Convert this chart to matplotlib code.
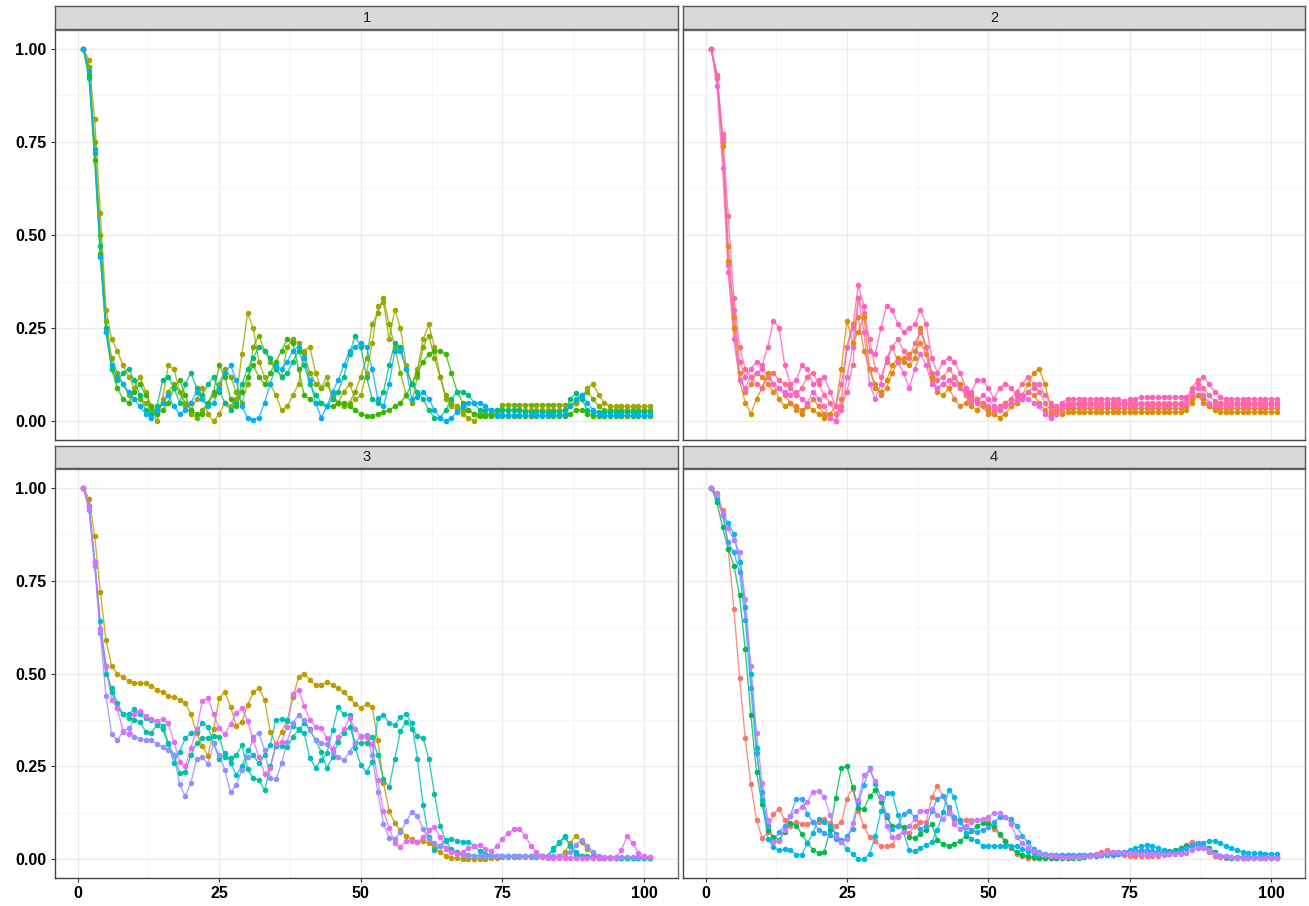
import numpy as np
import matplotlib
matplotlib.use("Agg")
import matplotlib.pyplot as plt
from matplotlib.ticker import MultipleLocator

plt.rcParams['font.family'] = ['Liberation Sans', 'DejaVu Sans']

# ---------------- data ----------------
facet_labels = ["1", "2", "3", "4"]
x_ticks = [0, 25, 50, 75, 100]
y_ticks = [0.00, 0.25, 0.50, 0.75, 1.00]
y_tick_labels = ["0.00", "0.25", "0.50", "0.75", "1.00"]

# facet 1
p1_a = [1.00, .97, .81, .56, .30, .22, .19, .15, .12, .09,
        .12, .08, .04, .00, .06, .15, .14, .08, .05, .03,
        .06, .09, .02, .00, .02, .05, .04, .06, .18, .29,
        .25, .16, .12, .10, .07, .03, .04, .07, .10, .19,
        .20, .13, .09, .12, .06, .05, .08, .10, .06, .07,
        .13, .21, .31, .32, .22, .30, .25, .15, .10, .14,
        .22, .26, .20, .12, .06, .04, .03, .02, .01, .00,
        .02, .02, .02, .03, .03, .03, .03, .03, .03, .03,
        .03, .03, .03, .03, .03, .03, .04, .05, .06, .09,
        .10, .07, .05, .04, .04, .04, .04, .04, .04, .04, .04]
p1_b = [1.00, .95, .75, .50, .27, .17, .13, .10, .07, .06,
        .06, .05, .03, .02, .05, .08, .10, .08, .04, .02,
        .01, .03, .05, .07, .10, .14, .12, .08, .05, .10,
        .20, .23, .19, .16, .14, .12, .20, .22, .21, .18,
        .13, .10, .09, .10, .07, .05, .04, .05, .08, .12,
        .17, .26, .29, .33, .26, .20, .13, .07, .05, .12,
        .20, .23, .17, .12, .07, .05, .04, .03, .03, .02,
        .02, .02, .02, .02, .045, .045, .045, .045, .045, .045,
        .045, .045, .045, .045, .045, .045, .045, .05, .07, .08,
        .06, .04, .03, .03, .03, .03, .03, .03, .03, .03, .03]
p1_c = [1.00, .93, .70, .45, .24, .14, .09, .06, .05, .08,
        .10, .07, .04, .02, .03, .05, .09, .11, .07, .03,
        .02, .02, .05, .08, .15, .12, .06, .04, .08, .12,
        .15, .12, .10, .13, .16, .19, .22, .21, .14, .07,
        .06, .05, .05, .04, .04, .05, .05, .04, .03, .02,
        .015, .015, .02, .025, .03, .04, .05, .07, .10, .13,
        .16, .18, .19, .19, .18, .13, .08, .05, .03, .02,
        .015, .015, .015, .015, .015, .015, .015, .015, .015, .015,
        .015, .015, .015, .015, .015, .015, .02, .03, .03, .02,
        .015, .015, .015, .015, .015, .015, .015, .015, .015, .015, .015]
p1_d = [1.00, .92, .72, .47, .25, .14, .11, .13, .14, .11,
        .07, .03, .02, .04, .11, .12, .09, .05, .10, .13,
        .09, .07, .10, .12, .08, .05, .03, .05, .10, .14,
        .17, .20, .19, .17, .14, .12, .13, .16, .19, .15,
        .10, .07, .05, .04, .06, .08, .12, .18, .23, .20,
        .12, .06, .05, .08, .15, .21, .20, .14, .10, .08,
        .06, .03, .01, .01, .03, .06, .08, .08, .07, .05,
        .03, .03, .03, .03, .03, .03, .03, .03, .025, .025,
        .025, .025, .025, .025, .025, .03, .06, .075, .06, .03,
        .025, .025, .025, .025, .025, .025, .025, .025, .025, .025, .025]
p1_e = [1.00, .94, .73, .44, .24, .15, .12, .10, .08, .06,
        .04, .02, .01, .03, .05, .07, .04, .02, .03, .05,
        .08, .06, .04, .05, .09, .13, .15, .11, .04, .01,
        .005, .01, .05, .10, .15, .14, .16, .19, .20, .17,
        .11, .05, .01, .04, .08, .11, .15, .19, .20, .21,
        .20, .14, .06, .04, .10, .19, .19, .14, .06, .065,
        .08, .06, .03, .01, .00, .01, .025, .04, .05, .05,
        .05, .04, .03, .015, .016, .016, .016, .016, .016, .016,
        .016, .016, .016, .016, .016, .02, .04, .06, .07, .05,
        .03, .02, .016, .016, .016, .016, .016, .016, .016, .016, .016]

# facet 2
p2_a = [1.00, .92, .76, .42, .30, .16, .12, .14, .16, .15,
        .20, .27, .25, .15, .10, .11, .15, .14, .10, .11,
        .12, .08, .04, .10, .20, .25, .365, .31, .19, .18,
        .25, .31, .30, .26, .24, .25, .26, .30, .26, .17,
        .13, .16, .17, .16, .13, .09, .08, .11, .11, .09,
        .06, .09, .10, .09, .07, .06, .08, .09, .10, .07,
        .05, .04, .05, .06, .06, .06, .06, .06, .06, .06,
        .06, .06, .06, .055, .06, .06, .065, .065, .065, .065,
        .065, .065, .065, .065, .065, .07, .10, .12, .10, .08,
        .065, .06, .06, .06, .06, .06, .06, .06, .06, .06, .06]
p2_b = [1.00, .90, .68, .40, .22, .11, .09, .12, .13, .14,
        .12, .10, .09, .08, .07, .08, .06, .05, .08, .06,
        .04, .01, .00, .03, .12, .20, .33, .24, .10, .06,
        .10, .17, .20, .16, .13, .09, .14, .18, .15, .10,
        .09, .10, .11, .10, .09, .08, .06, .05, .07, .06,
        .04, .03, .04, .05, .06, .07, .06, .05, .04, .02,
        .01, .02, .04, .045, .045, .045, .045, .045, .045, .045,
        .045, .045, .045, .045, .045, .045, .045, .045, .045, .045,
        .045, .045, .045, .045, .05, .08, .09, .07, .05, .045,
        .045, .045, .045, .045, .045, .045, .045, .045, .045, .045, .045]
p2_c = [1.00, .93, .77, .55, .33, .20, .14, .12, .10, .09,
        .12, .13, .11, .10, .09, .07, .09, .12, .13, .10,
        .07, .05, .02, .04, .08, .15, .33, .29, .22, .14,
        .12, .16, .20, .22, .19, .17, .21, .24, .20, .13,
        .11, .12, .14, .12, .09, .07, .05, .06, .05, .04,
        .03, .04, .05, .06, .08, .10, .12, .10, .08, .05,
        .03, .02, .03, .05, .05, .05, .05, .05, .05, .05,
        .05, .05, .05, .05, .05, .05, .05, .05, .05, .05,
        .05, .05, .05, .05, .06, .09, .11, .09, .07, .055,
        .05, .05, .05, .05, .05, .05, .05, .05, .05, .05, .05]
p2_d = [1.00, .92, .74, .43, .25, .11, .05, .02, .06, .09,
        .13, .10, .06, .04, .05, .03, .02, .04, .03, .02,
        .01, .02, .04, .14, .27, .21, .24, .28, .14, .09,
        .08, .11, .15, .17, .16, .15, .17, .25, .20, .12,
        .08, .07, .09, .12, .10, .07, .04, .03, .05, .03,
        .02, .01, .02, .04, .05, .07, .10, .13, .14, .10,
        .04, .02, .02, .025, .025, .025, .025, .025, .025, .025,
        .025, .025, .025, .025, .025, .025, .025, .025, .025, .025,
        .025, .025, .025, .025, .03, .05, .07, .06, .04, .03,
        .025, .025, .025, .025, .025, .025, .025, .025, .025, .025, .025]
p2_e = [1.00, .93, .75, .47, .28, .13, .08, .10, .13, .12,
        .10, .08, .09, .07, .05, .04, .03, .04, .06, .04,
        .02, .01, .00, .06, .20, .26, .28, .19, .14, .10,
        .07, .09, .13, .16, .17, .18, .19, .21, .18, .11,
        .09, .10, .09, .06, .04, .05, .07, .06, .04, .02,
        .02, .03, .05, .04, .05, .06, .08, .07, .05, .03,
        .02, .03, .035, .035, .035, .035, .035, .035, .035, .035,
        .035, .035, .035, .035, .035, .035, .035, .035, .035, .035,
        .035, .035, .035, .035, .04, .06, .07, .05, .04, .035,
        .035, .035, .035, .035, .035, .035, .035, .035, .035, .035, .035]

# facet 3
p3_gold = [1.00, .97, .87, .72, .59, .52, .50, .49, .48, .475,
           .474, .474, .467, .456, .45, .44, .436, .43, .42, .39,
           .34, .305, .278, .35, .434, .45, .41, .36, .37, .415,
           .45, .46, .43, .344, .31, .344, .373, .436, .49, .50,
           .483, .47, .468, .477, .47, .46, .45, .434, .418, .408,
           .417, .41, .32, .206, .13, .098, .078, .063, .055, .046,
           .05, .044, .033, .019, .01, .005, .003, .002, .002, .002,
           .002, .002, .003, .005, .007, .007, .007, .007, .007, .007,
           .007, .007, .007, .007, .008, .02, .044, .064, .046, .028,
           .013, .006, .005, .005, .005, .005, .005, .005, .005, .005, .005]
p3_magenta = [1.00, .95, .80, .62, .52, .43, .407, .346, .336, .39,
              .40, .386, .377, .373, .377, .366, .317, .263, .25, .30,
              .35, .425, .434, .39, .353, .337, .365, .393, .407, .373,
              .32, .276, .23, .245, .31, .317, .357, .445, .455, .413,
              .375, .357, .353, .326, .296, .33, .35, .38, .352, .33,
              .33, .31, .213, .13, .085, .044, .033, .049, .05, .046,
              .06, .078, .088, .06, .028, .019, .015, .02, .03, .035,
              .039, .028, .022, .035, .055, .07, .081, .081, .064, .037,
              .02, .008, .005, .005, .005, .005, .005, .005, .005, .005,
              .005, .005, .005, .005, .005, .025, .062, .044, .017, .008, .006]
p3_purple = [1.00, .94, .79, .61, .44, .336, .32, .344, .353, .33,
             .324, .32, .32, .31, .303, .294, .28, .202, .17, .206,
             .27, .276, .256, .312, .28, .24, .18, .20, .24, .276,
             .33, .34, .294, .22, .215, .258, .317, .366, .389, .375,
             .348, .32, .313, .31, .29, .276, .267, .29, .313, .332,
             .335, .28, .18, .096, .058, .055, .073, .102, .127, .116,
             .082, .055, .044, .037, .03, .02, .015, .012, .01, .01,
             .01, .01, .01, .008, .008, .008, .008, .008, .008, .008,
             .008, .008, .008, .008, .008, .01, .02, .04, .053, .037,
             .02, .01, .006, .006, .006, .006, .006, .006, .006, .006, .006]
p3_teal1 = [1.00, .95, .80, .64, .52, .45, .407, .39, .39, .404,
            .39, .38, .375, .37, .36, .312, .26, .29, .326, .34,
            .346, .366, .357, .312, .27, .285, .26, .227, .25, .294,
            .28, .258, .28, .307, .375, .377, .375, .36, .35, .34,
            .272, .247, .267, .285, .348, .41, .39, .389, .30, .253,
            .235, .263, .38, .389, .366, .362, .382, .391, .366, .27,
            .145, .06, .024, .037, .053, .055, .05, .048, .046, .037,
            .022, .015, .012, .01, .01, .008, .008, .008, .008, .008,
            .008, .008, .01, .025, .044, .06, .04, .02, .01, .008,
            .006, .005, .005, .005, .005, .005, .005, .005, .005, .005, .005]
p3_teal2 = [1.00, .95, .80, .62, .50, .46, .42, .39, .38, .375,
            .37, .344, .34, .362, .35, .31, .28, .233, .235, .28,
            .314, .326, .326, .332, .33, .276, .274, .28, .307, .243,
            .218, .213, .186, .25, .305, .305, .303, .33, .348, .366,
            .35, .32, .29, .245, .276, .317, .34, .357, .314, .314,
            .314, .328, .28, .215, .195, .27, .346, .37, .352, .332,
            .326, .27, .177, .091, .049, .028, .019, .015, .012, .01,
            .01, .01, .008, .008, .008, .008, .008, .008, .008, .008,
            .008, .008, .01, .03, .046, .062, .035, .013, .008, .006,
            .005, .005, .005, .005, .005, .005, .005, .005, .005, .005, .005]

# facet 4
p4_red = [1.00, .985, .94, .836, .674, .488, .326, .202, .107, .057,
          .073, .123, .136, .105, .091, .10, .096, .096, .10, .10,
          .108, .098, .09, .10, .163, .19, .13, .089, .06, .049,
          .037, .035, .04, .064, .076, .07, .09, .10, .10, .168,
          .197, .17, .132, .107, .107, .105, .105, .105, .105, .10,
          .082, .065, .049, .031, .015, .008, .005, .004, .004, .004,
          .004, .004, .004, .005, .006, .008, .01, .012, .015, .02,
          .025, .02, .015, .012, .01, .01, .01, .01, .01, .01,
          .012, .015, .02, .03, .04, .047, .045, .035, .02, .01,
          .006, .005, .005, .005, .005, .005, .005, .005, .005, .005, .005]
p4_green = [1.00, .96, .893, .836, .79, .71, .566, .389, .234, .148,
            .08, .06, .053, .075, .098, .091, .069, .044, .026, .017,
            .021, .08, .166, .245, .25, .195, .137, .135, .17, .186,
            .155, .114, .091, .09, .087, .06, .058, .069, .08, .094,
            .051, .042, .037, .042, .049, .062, .076, .089, .098, .096,
            .091, .069, .049, .033, .019, .013, .008, .006, .005, .005,
            .005, .005, .005, .005, .005, .005, .006, .008, .01, .012,
            .015, .018, .02, .02, .02, .02, .02, .02, .02, .02,
            .02, .022, .025, .03, .035, .04, .042, .04, .03, .02,
            .01, .007, .005, .005, .005, .005, .005, .005, .005, .005, .005]
p4_cyan = [1.00, .97, .93, .905, .875, .80, .68, .50, .30, .16,
           .055, .033, .024, .028, .026, .013, .013, .044, .071, .109,
           .10, .09, .069, .051, .028, .015, .001, .001, .015, .062,
           .13, .179, .179, .12, .073, .024, .022, .031, .04, .046,
           .08, .128, .188, .168, .105, .07, .055, .049, .037, .037,
           .037, .037, .037, .037, .035, .028, .022, .017, .013, .013,
           .012, .012, .012, .012, .012, .012, .012, .012, .012, .012,
           .012, .012, .015, .02, .025, .03, .035, .038, .035, .03,
           .025, .02, .02, .025, .03, .035, .04, .045, .05, .05,
           .045, .035, .03, .025, .02, .018, .017, .016, .015, .015, .015]
p4_blue = [1.00, .98, .925, .853, .826, .772, .645, .46, .287, .181,
           .089, .049, .073, .091, .118, .163, .163, .123, .10, .08,
           .071, .065, .055, .046, .062, .082, .152, .20, .245, .204,
           .168, .12, .082, .09, .123, .13, .114, .082, .09, .13,
           .163, .17, .14, .115, .10, .087, .08, .073, .08, .087,
           .10, .114, .114, .11, .089, .064, .046, .028, .02, .015,
           .013, .012, .012, .012, .012, .012, .012, .012, .012, .012,
           .012, .013, .015, .018, .02, .022, .025, .025, .022, .018,
           .015, .015, .015, .02, .03, .04, .045, .035, .025, .015,
           .01, .008, .007, .006, .006, .006, .006, .006, .006, .006, .006]
p4_purple = [1.00, .98, .93, .89, .86, .826, .70, .52, .34, .206,
             .107, .046, .05, .08, .118, .13, .14, .154, .181, .184,
             .168, .12, .064, .046, .055, .098, .16, .226, .242, .21,
             .166, .091, .06, .06, .075, .089, .109, .131, .131, .136,
             .12, .11, .125, .096, .082, .09, .10, .105, .11, .114,
             .125, .125, .114, .094, .06, .044, .032, .022, .017, .013,
             .01, .008, .007, .007, .007, .007, .008, .01, .012, .015,
             .018, .02, .02, .02, .018, .016, .015, .015, .015, .015,
             .015, .015, .015, .015, .018, .025, .03, .03, .025, .015,
             .01, .008, .006, .005, .005, .005, .005, .005, .005, .005, .005]

facets = [
    [(p1_a, "#A3A500"), (p1_b, "#7CAE00"), (p1_c, "#39B600"), (p1_d, "#00BF7D"), (p1_e, "#00B0F6")],
    [(p2_d, "#D89000"), (p2_e, "#EA8331"), (p2_b, "#FA62DB"), (p2_c, "#FF6C91"), (p2_a, "#FF62BC")],
    [(p3_gold, "#C09B00"), (p3_teal2, "#00C1A3"), (p3_teal1, "#00BFC4"), (p3_purple, "#9590FF"), (p3_magenta, "#E76BF3")],
    [(p4_red, "#F8766D"), (p4_green, "#00BB4E"), (p4_cyan, "#00BAE0"), (p4_blue, "#35A2FF"), (p4_purple, "#C77CFF")],
]

# ---------------- layout ----------------
W, H = 1309, 906
fig = plt.figure(figsize=(W / 100, H / 100), dpi=100)
fig.patch.set_facecolor("white")

panel_rects = [(55, 30, 678, 440), (683, 30, 1305, 440),
               (55, 469, 678, 878), (683, 469, 1305, 878)]
strip_rects = [(55, 6, 678, 29), (683, 6, 1305, 29),
               (55, 446, 678, 468), (683, 446, 1305, 468)]


def px_axes(r):
    l, t, rr, b = r
    return fig.add_axes([l / W, 1 - b / H, (rr - l) / W, (b - t) / H])


for i, (series, label) in enumerate(zip(facets, facet_labels)):
    ax = px_axes(panel_rects[i])
    ax.set_facecolor("white")
    for vals, col in series:
        xs = np.arange(1, len(vals) + 1)
        ax.plot(xs, vals, color=col, lw=1.0, alpha=0.8, zorder=3)
        ax.plot(xs, vals, ls="none", marker="o", ms=4.0, mew=0,
                color=col, zorder=4)
    ax.set_xlim(-4, 106)
    ax.set_ylim(-0.05, 1.05)
    ax.set_xticks(x_ticks)
    ax.set_yticks(y_ticks)
    ax.xaxis.set_minor_locator(MultipleLocator(12.5))
    ax.yaxis.set_minor_locator(MultipleLocator(0.125))
    ax.grid(which="major", color="#EBEBEB", lw=0.9, zorder=0)
    ax.grid(which="minor", color="#F4F4F4", lw=0.6, zorder=0)
    ax.set_axisbelow(True)
    for sp in ax.spines.values():
        sp.set_color("#6E6E6E")
        sp.set_linewidth(1.0)
    ax.spines["left"].set_color("#444444")
    ax.spines["bottom"].set_color("#444444")
    ax.tick_params(which="minor", length=0)
    ax.tick_params(which="major", direction="out", length=3, width=0.8,
                   color="#333333", pad=3)
    if i in (0, 2):
        ax.set_yticklabels(y_tick_labels, fontsize=11.5, fontweight="bold",
                           color="black")
    else:
        ax.tick_params(axis="y", which="major", length=0, labelleft=False)
    if i in (2, 3):
        ax.set_xticklabels([str(t) for t in x_ticks], fontsize=11.5,
                           fontweight="bold", color="black")
    else:
        ax.tick_params(axis="x", which="major", length=0, labelbottom=False)

    sax = px_axes(strip_rects[i])
    sax.set_facecolor("#D9D9D9")
    sax.set_xticks([])
    sax.set_yticks([])
    for sp in sax.spines.values():
        sp.set_color("#555555")
        sp.set_linewidth(1.0)
    sax.text(0.5, 0.5, label, ha="center", va="center", fontsize=10.5,
             color="#1A1A1A", transform=sax.transAxes)

fig.savefig("out.png", dpi=100, facecolor="white")
